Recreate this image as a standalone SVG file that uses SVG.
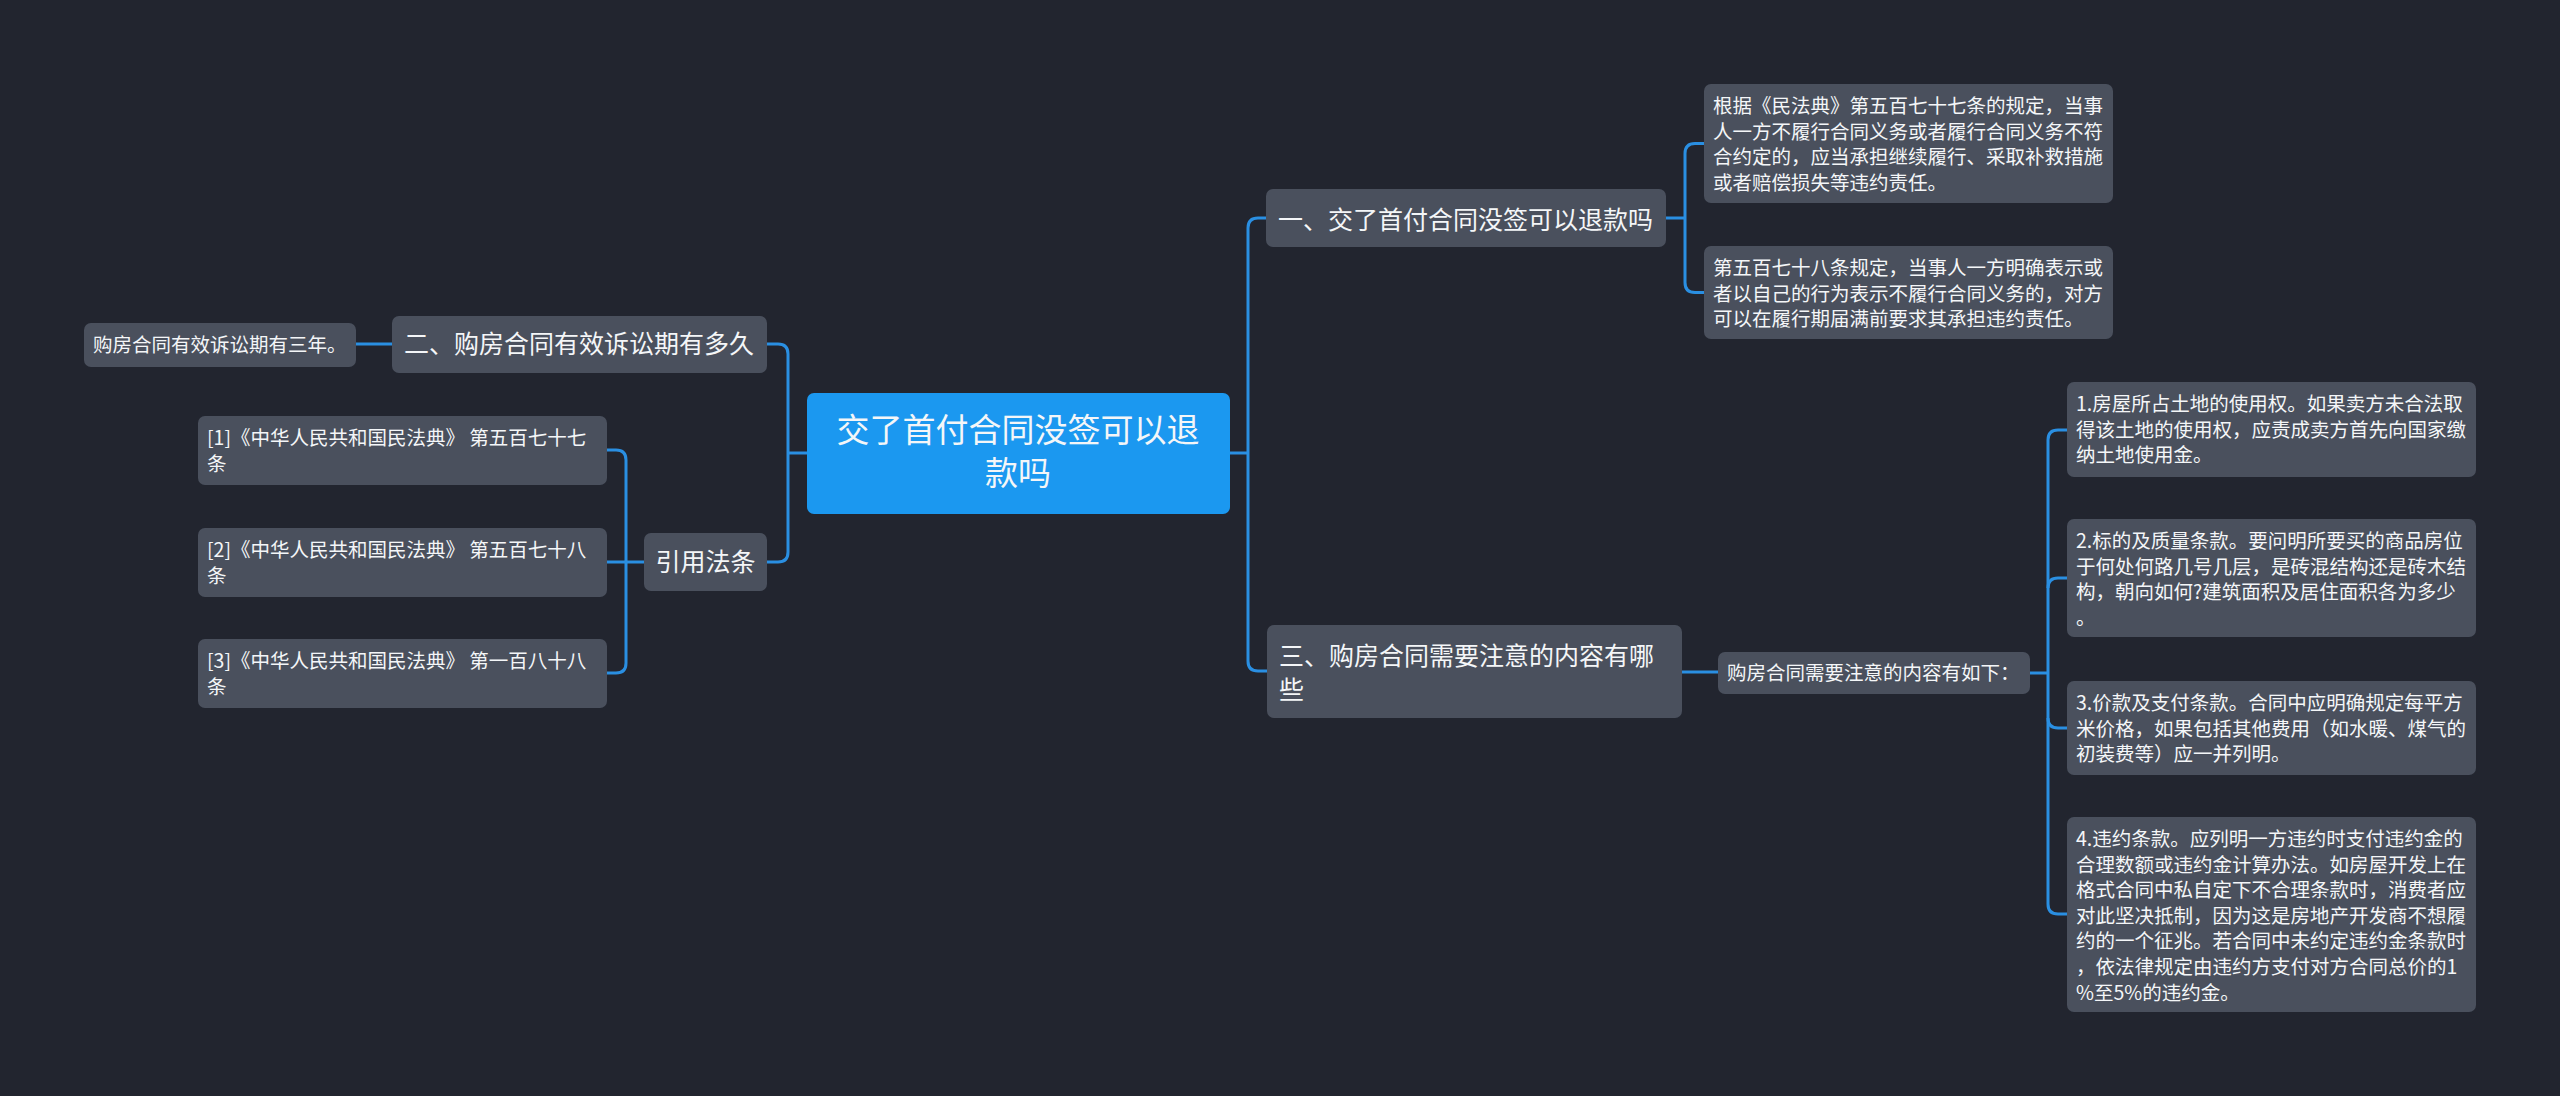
<svg xmlns="http://www.w3.org/2000/svg" width="2560" height="1096" viewBox="0 0 2560 1096">
<style>
.bg{fill:#22252f}
.n{fill:#4a505d}
.root{fill:#1b98f0}
.t{font-family:"Noto Sans CJK SC","Noto Sans",sans-serif;fill:#f4f6f8}
.big{font-size:33px;text-anchor:middle}
.mid{font-size:25px}
.sm{font-size:19.5px}
.c{fill:none;stroke:#2a8fe2;stroke-width:3}
</style>
<rect class="bg" x="0" y="0" width="2560" height="1096"/>
<g id="connectors">
<path class="c" d="M1230,453 H1248"/>
<path class="c" d="M1266,218 H1258 Q1248,218 1248,228 V661 Q1248,671 1258,671 H1267"/>
<path class="c" d="M1666,218 H1685"/>
<path class="c" d="M1704,143.5 H1695 Q1685,143.5 1685,153.5 V282.5 Q1685,292.5 1695,292.5 H1704"/>
<path class="c" d="M1682,672 H1718"/>
<path class="c" d="M2030,673 H2048"/>
<path class="c" d="M2067,430 H2058 Q2048,430 2048,440 V904 Q2048,914 2058,914 H2067"/>
<path class="c" d="M2048,588 Q2048,578 2058,578 H2067"/>
<path class="c" d="M2048,718 Q2048,728 2058,728 H2067"/>
<path class="c" d="M807,453 H788"/>
<path class="c" d="M767,344 H778 Q788,344 788,354 V552 Q788,562 778,562 H767"/>
<path class="c" d="M392,344 H356"/>
<path class="c" d="M644,562 H607"/>
<path class="c" d="M607,450 H616 Q626,450 626,460 V663 Q626,673 616,673 H607"/>
</g>
<g id="root">
<rect class="root" x="807" y="393" width="423" height="121" rx="7"/>
<text class="t big" x="1018" y="442">交了首付合同没签可以退</text>
<text class="t big" x="1018" y="485">款吗</text>
</g>
<g id="n1">
<rect class="n" x="1266" y="189" width="400" height="58" rx="7"/>
<text class="t mid" x="1278" y="229">一、交了首付合同没签可以退款吗</text>
</g>
<g id="n1a">
<rect class="n" x="1704" y="84" width="409" height="119" rx="7"/>
<text class="t sm" x="1713" y="113">根据《民法典》第五百七十七条的规定，当事</text>
<text class="t sm" x="1713" y="138.6">人一方不履行合同义务或者履行合同义务不符</text>
<text class="t sm" x="1713" y="164.2">合约定的，应当承担继续履行、采取补救措施</text>
<text class="t sm" x="1713" y="189.8">或者赔偿损失等违约责任。</text>
</g>
<g id="n1b">
<rect class="n" x="1704" y="246" width="409" height="93" rx="7"/>
<text class="t sm" x="1713" y="275">第五百七十八条规定，当事人一方明确表示或</text>
<text class="t sm" x="1713" y="300.6">者以自己的行为表示不履行合同义务的，对方</text>
<text class="t sm" x="1713" y="326.2">可以在履行期届满前要求其承担违约责任。</text>
</g>
<g id="n3">
<rect class="n" x="1267" y="625" width="415" height="93" rx="7"/>
<text class="t mid" x="1279" y="665">三、购房合同需要注意的内容有哪</text>
<text class="t mid" x="1279" y="699">些</text>
</g>
<g id="n3a">
<rect class="n" x="1718" y="652" width="312" height="42" rx="7"/>
<text class="t sm" x="1727" y="680">购房合同需要注意的内容有如下：</text>
</g>
<g id="n3a1">
<rect class="n" x="2067" y="382" width="409" height="95" rx="7"/>
<text class="t sm" x="2076" y="411">1.房屋所占土地的使用权。如果卖方未合法取</text>
<text class="t sm" x="2076" y="436.6">得该土地的使用权，应责成卖方首先向国家缴</text>
<text class="t sm" x="2076" y="462.2">纳土地使用金。</text>
</g>
<g id="n3a2">
<rect class="n" x="2067" y="519" width="409" height="118" rx="7"/>
<text class="t sm" x="2076" y="548">2.标的及质量条款。要问明所要买的商品房位</text>
<text class="t sm" x="2076" y="573.6">于何处何路几号几层，是砖混结构还是砖木结</text>
<text class="t sm" x="2076" y="599.2">构，朝向如何?建筑面积及居住面积各为多少</text>
<text class="t sm" x="2076" y="624.8">。</text>
</g>
<g id="n3a3">
<rect class="n" x="2067" y="681" width="409" height="94" rx="7"/>
<text class="t sm" x="2076" y="710">3.价款及支付条款。合同中应明确规定每平方</text>
<text class="t sm" x="2076" y="735.6">米价格，如果包括其他费用（如水暖、煤气的</text>
<text class="t sm" x="2076" y="761.2">初装费等）应一并列明。</text>
</g>
<g id="n3a4">
<rect class="n" x="2067" y="817" width="409" height="195" rx="7"/>
<text class="t sm" x="2076" y="846">4.违约条款。应列明一方违约时支付违约金的</text>
<text class="t sm" x="2076" y="871.6">合理数额或违约金计算办法。如房屋开发上在</text>
<text class="t sm" x="2076" y="897.2">格式合同中私自定下不合理条款时，消费者应</text>
<text class="t sm" x="2076" y="922.8">对此坚决抵制，因为这是房地产开发商不想履</text>
<text class="t sm" x="2076" y="948.4">约的一个征兆。若合同中未约定违约金条款时</text>
<text class="t sm" x="2076" y="974">，依法律规定由违约方支付对方合同总价的1</text>
<text class="t sm" x="2076" y="999.6">%至5%的违约金。</text>
</g>
<g id="n2">
<rect class="n" x="392" y="316" width="375" height="57" rx="7"/>
<text class="t mid" x="404" y="353">二、购房合同有效诉讼期有多久</text>
</g>
<g id="n2a">
<rect class="n" x="84" y="323" width="272" height="44" rx="7"/>
<text class="t sm" x="93" y="352">购房合同有效诉讼期有三年。</text>
</g>
<g id="n4">
<rect class="n" x="644" y="533" width="123" height="58" rx="7"/>
<text class="t mid" x="705.5" y="571" text-anchor="middle">引用法条</text>
</g>
<g id="n4a">
<rect class="n" x="198" y="416" width="409" height="69" rx="7"/>
<text class="t sm" x="207" y="445">[1]《中华人民共和国民法典》 第五百七十七</text>
<text class="t sm" x="207" y="470.6">条</text>
</g>
<g id="n4b">
<rect class="n" x="198" y="528" width="409" height="69" rx="7"/>
<text class="t sm" x="207" y="557">[2]《中华人民共和国民法典》 第五百七十八</text>
<text class="t sm" x="207" y="582.6">条</text>
</g>
<g id="n4c">
<rect class="n" x="198" y="639" width="409" height="69" rx="7"/>
<text class="t sm" x="207" y="668">[3]《中华人民共和国民法典》 第一百八十八</text>
<text class="t sm" x="207" y="693.6">条</text>
</g>
</svg>
